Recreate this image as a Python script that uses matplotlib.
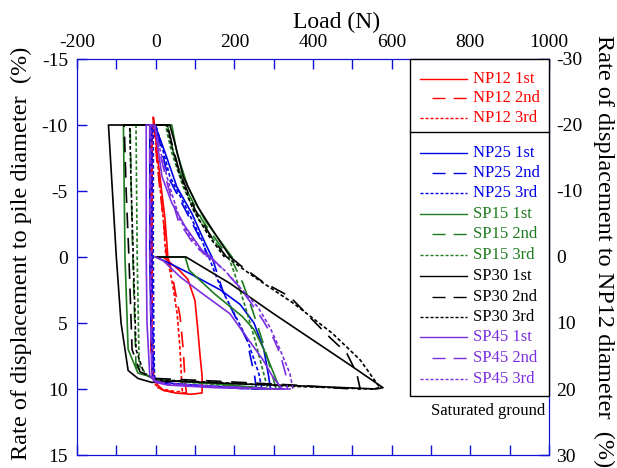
import matplotlib
matplotlib.use('Agg')
import matplotlib.pyplot as plt
from matplotlib.lines import Line2D
from matplotlib.patches import Rectangle

plt.rcParams['font.family'] = ['Liberation Serif', 'DejaVu Serif']
plt.rcParams['axes.unicode_minus'] = False

# load (N) and displacement (% of pile diameter)
np12_1st_load = [0, 19, 60, 82, 100, 108, 113, 118, 118, 90, 50, 20, 5, -5, -10, -10, -10, -6, -6, -3, 6, 16, 24, 31]
np12_1st_disp = [0, 0, 1.0, 1.7, 3.3, 5.8, 7.5, 9.0, 10.3, 10.4, 10.3, 10.1, 9.7, 9.0, 5.0, 0, -10, -10, -10.6, -10, -7.3, -4.8, -2.8, 0]
np12_2nd_load = [31, 40, 49, 62, 70, 75, 78, 60, 20, 0, -8, -12, -12, -12, -5, 3, 12, 20, 28]
np12_2nd_disp = [0, 1.0, 2.5, 4.5, 7.0, 9.5, 10.3, 10.3, 10.1, 9.8, 9.2, 7.0, 0, -10, -10, -7.3, -4.8, -2.8, 0]
np12_3rd_load = [28, 36, 45, 55, 62, 66, 68, 50, 15, 0, -6, -9, -9, -9, -3, 4, 12, 19, 26]
np12_3rd_disp = [0, 1.0, 2.4, 4.4, 7.0, 9.4, 10.2, 10.2, 10.0, 9.7, 9.2, 7.0, 0, -10, -10, -7.5, -5.0, -3.0, 0]

np25_1st_load = [0, 30, 90, 165, 215, 250, 275, 287, 292, 270, 150, 50, 0, -8, -12, -15, -15, 0, 3, 24, 54, 92, 125, 143]
np25_1st_disp = [0, 0.4, 1.3, 2.5, 3.6, 5.0, 7.0, 9.0, 10, 10, 9.8, 9.6, 9.4, 9.0, 5.0, 0, -10, -10, -9.6, -7.9, -5.3, -3.3, -1.1, 0]
np25_2nd_load = [143, 170, 197, 232, 252, 256, 240, 120, 30, 0, -5, -8, -10, -10, -5, 11, 31, 75, 118, 135]
np25_2nd_disp = [0, 2.5, 4.2, 6.3, 9.1, 10, 10, 9.8, 9.6, 9.4, 9.0, 5, 0, -10, -10, -8.6, -6.1, -3.6, -1.1, 0]
np25_3rd_load = [135, 165, 195, 232, 262, 270, 250, 120, 30, 0, -3, -5, -6, -6, 0, 14, 36, 80, 120, 132]
np25_3rd_disp = [0, 2.3, 4.0, 6.2, 8.8, 10, 10, 9.8, 9.6, 9.4, 9.0, 5, 0, -10, -10, -8.6, -6.1, -3.6, -1.1, 0]

sp15_1st_load = [0, 75, 85, 150, 220, 250, 275, 300, 316, 300, 150, 0, -9, -45, -70, -78, -82, 41, 54, 82, 125, 194]
sp15_1st_disp = [0, 0, 1.0, 2.8, 4.5, 5.5, 7.0, 8.8, 10, 10, 9.6, 9.3, 9.1, 8.8, 7.0, 0, -10, -10, -7.9, -5.3, -2.8, 0]
sp15_2nd_load = [194, 197, 222, 248, 273, 298, 306, 290, 150, 0, -20, -50, -58, -62, -65, 30, 45, 75, 118, 185]
sp15_2nd_disp = [0, 0.45, 2.0, 4.2, 6.5, 9.1, 10, 10, 9.6, 9.3, 9.0, 8.3, 0, -5, -10, -10, -7.9, -5.3, -2.8, 0]
sp15_3rd_load = [185, 200, 225, 250, 270, 285, 270, 130, 0, -20, -42, -47, -50, 25, 40, 70, 110, 180]
sp15_3rd_disp = [0, 1.2, 3.5, 6.0, 8.3, 10, 10, 9.6, 9.3, 9.0, 8.2, 0, -10, -10, -8, -5.3, -2.8, 0]

sp30_1st_load = [0, 77, 189, 300, 400, 500, 578, 560, 400, 200, 50, -10, -45, -70, -88, -100, -110, -120, 36, 49, 70, 107, 150, 190]
sp30_1st_disp = [0, 0, 2.0, 4.3, 6.3, 8.3, 9.9, 10.0, 9.8, 9.6, 9.4, 9.5, 9.2, 8.6, 5.0, 0, -5, -10, -10, -8.6, -6.1, -3.8, -1.8, 0]
sp30_2nd_load = [190, 214, 273, 341, 400, 443, 486, 511, 520, 500, 350, 150, 0, -40, -60, -68, -75, -80, 30, 42, 60, 100, 140, 180]
sp30_2nd_disp = [0, 0.6, 1.9, 3.0, 4.8, 6.1, 7.3, 8.8, 10.0, 10.0, 9.7, 9.4, 9.2, 8.7, 7.0, 0, -5, -10, -10, -8.5, -6.5, -3.6, -1.6, 0]
sp30_3rd_load = [180, 250, 350, 450, 520, 570, 550, 350, 150, 0, -30, -50, -57, -62, -66, 28, 40, 58, 95, 135, 175]
sp30_3rd_disp = [0, 1.5, 3.5, 5.8, 7.8, 9.9, 10.0, 9.8, 9.5, 9.3, 8.8, 7.0, 0, -5, -10, -10, -8.5, -6.5, -3.6, -1.6, 0]

sp45_1st_load = [0, 20, 62, 120, 189, 232, 273, 298, 322, 300, 150, 30, 0, -15, -22, -24, -24, -5, 0, 16, 41, 75, 118, 140]
sp45_1st_disp = [0, 0.3, 1.5, 2.8, 4.3, 6.1, 7.8, 9.1, 10, 10, 9.9, 9.7, 9.5, 9.0, 5, 0, -10, -10, -9.5, -6.1, -4.1, -2.3, -0.5, 0]
sp45_2nd_load = [140, 180, 214, 250, 273, 300, 316, 330, 335, 320, 150, 30, 0, -10, -15, -15, -3, 10, 30, 57, 100, 135]
sp45_2nd_disp = [0, 1.2, 2.3, 3.8, 4.8, 6.2, 7.3, 8.8, 10, 10, 9.8, 9.6, 9.4, 9.0, 0, -10, -10, -8, -5.5, -2.8, -0.8, 0]
sp45_3rd_load = [135, 175, 214, 260, 290, 316, 341, 349, 330, 150, 30, 0, -8, -12, -12, -2, 12, 34, 62, 105, 130]
sp45_3rd_disp = [0, 1.0, 2.3, 3.8, 5.3, 7.0, 8.8, 10, 10, 9.8, 9.6, 9.4, 9.0, 0, -10, -10, -8, -5.5, -2.8, -0.8, 0]

series_names = ['NP12', 'NP25', 'SP15', 'SP30', 'SP45']
cycle_names = ['1st', '2nd', '3rd']
series_colors = ['#ff0000', '#0000e6', '#1e7b1e', '#000000', '#7b2fe0']

curves = {
    'NP12': [(np12_1st_load, np12_1st_disp), (np12_2nd_load, np12_2nd_disp), (np12_3rd_load, np12_3rd_disp)],
    'NP25': [(np25_1st_load, np25_1st_disp), (np25_2nd_load, np25_2nd_disp), (np25_3rd_load, np25_3rd_disp)],
    'SP15': [(sp15_1st_load, sp15_1st_disp), (sp15_2nd_load, sp15_2nd_disp), (sp15_3rd_load, sp15_3rd_disp)],
    'SP30': [(sp30_1st_load, sp30_1st_disp), (sp30_2nd_load, sp30_2nd_disp), (sp30_3rd_load, sp30_3rd_disp)],
    'SP45': [(sp45_1st_load, sp45_1st_disp), (sp45_2nd_load, sp45_2nd_disp), (sp45_3rd_load, sp45_3rd_disp)],
}

line_styles = ['-', (0, (9.4, 5.8)), (0, (2.2, 1.4))]
axis_blue = '#1010d8'

W, H = 617, 468
def fx(px):
    return px / W
def fy(py):
    return 1 - py / H

fig = plt.figure(figsize=(6.17, 4.68), dpi=100)
ax = fig.add_axes([fx(77), fy(455), (549 - 77) / W, (455 - 59) / H])

for name, color in zip(series_names, series_colors):
    for (load, disp), ls in zip(curves[name], line_styles):
        ax.plot(load, disp, color=color, lw=1.2, linestyle=ls)

ax.set_xlim(-200, 1000)
ax.set_ylim(15, -15)
xt = list(range(-200, 1001, 100))
ax.set_xticks(xt)
ax.set_xticklabels([str(v) if v % 200 == 0 else '' for v in xt])
ax.set_yticks(range(-15, 16, 5))
ax.tick_params(axis='x', direction='in', length=7, width=1, color=axis_blue,
               top=True, bottom=True, labeltop=True, labelbottom=False,
               labelsize=14, pad=5.5)
ax.tick_params(axis='y', direction='in', length=7, width=1, color=axis_blue,
               left=True, right=False, labelsize=14, pad=6.5)
for s in ax.spines.values():
    s.set_color(axis_blue)

ax2 = ax.twinx()
ax2.set_ylim(30, -30)
ax2.set_yticks(range(-30, 31, 10))
ax2.tick_params(axis='y', direction='in', length=7, width=1, color=axis_blue,
                labelsize=14, pad=5)
for s in ax2.spines.values():
    s.set_color(axis_blue)

fig.text(fx(337), fy(28), 'Load (N)', ha='center', va='baseline', fontsize=17)
fig.text(fx(21), fy(253), 'Rate of displacement to pile diameter  (%)',
         rotation=90, ha='center', va='center', fontsize=17.5)
fig.text(fx(604), fy(251), 'Rate of displacement to NP12 diameter  (%)',
         rotation=270, ha='center', va='center', fontsize=17.5)

# legend box
box = Rectangle((fx(410), fy(396)), fx(549) - fx(410), (396 - 59) / H,
                transform=fig.transFigure, facecolor='white', edgecolor='black',
                lw=1.0, zorder=3)
fig.add_artist(box)
fig.add_artist(Line2D([fx(410), fx(549)], [fy(132), fy(132)], color='black',
                      lw=1.0, transform=fig.transFigure, zorder=4))

row_y = [79, 98, 118, 153, 173, 193, 214, 234, 255, 276, 297, 317, 337, 358, 379]
k = 0
for name, color in zip(series_names, series_colors):
    for cyc, ls in zip(cycle_names, line_styles):
        y = fy(row_y[k])
        x0 = 432 if cyc == '2nd' else 420
        fig.add_artist(Line2D([fx(x0), fx(467)], [y, y], color=color, lw=1.0,
                              linestyle=ls, transform=fig.transFigure, zorder=4))
        fig.text(fx(473), y, name + ' ' + cyc, color=color, fontsize=12,
                 ha='left', va='center', zorder=5)
        k += 1

fig.text(fx(545), fy(411), 'Saturated ground', ha='right', va='center', fontsize=12)

fig.savefig('out.png', dpi=100)
